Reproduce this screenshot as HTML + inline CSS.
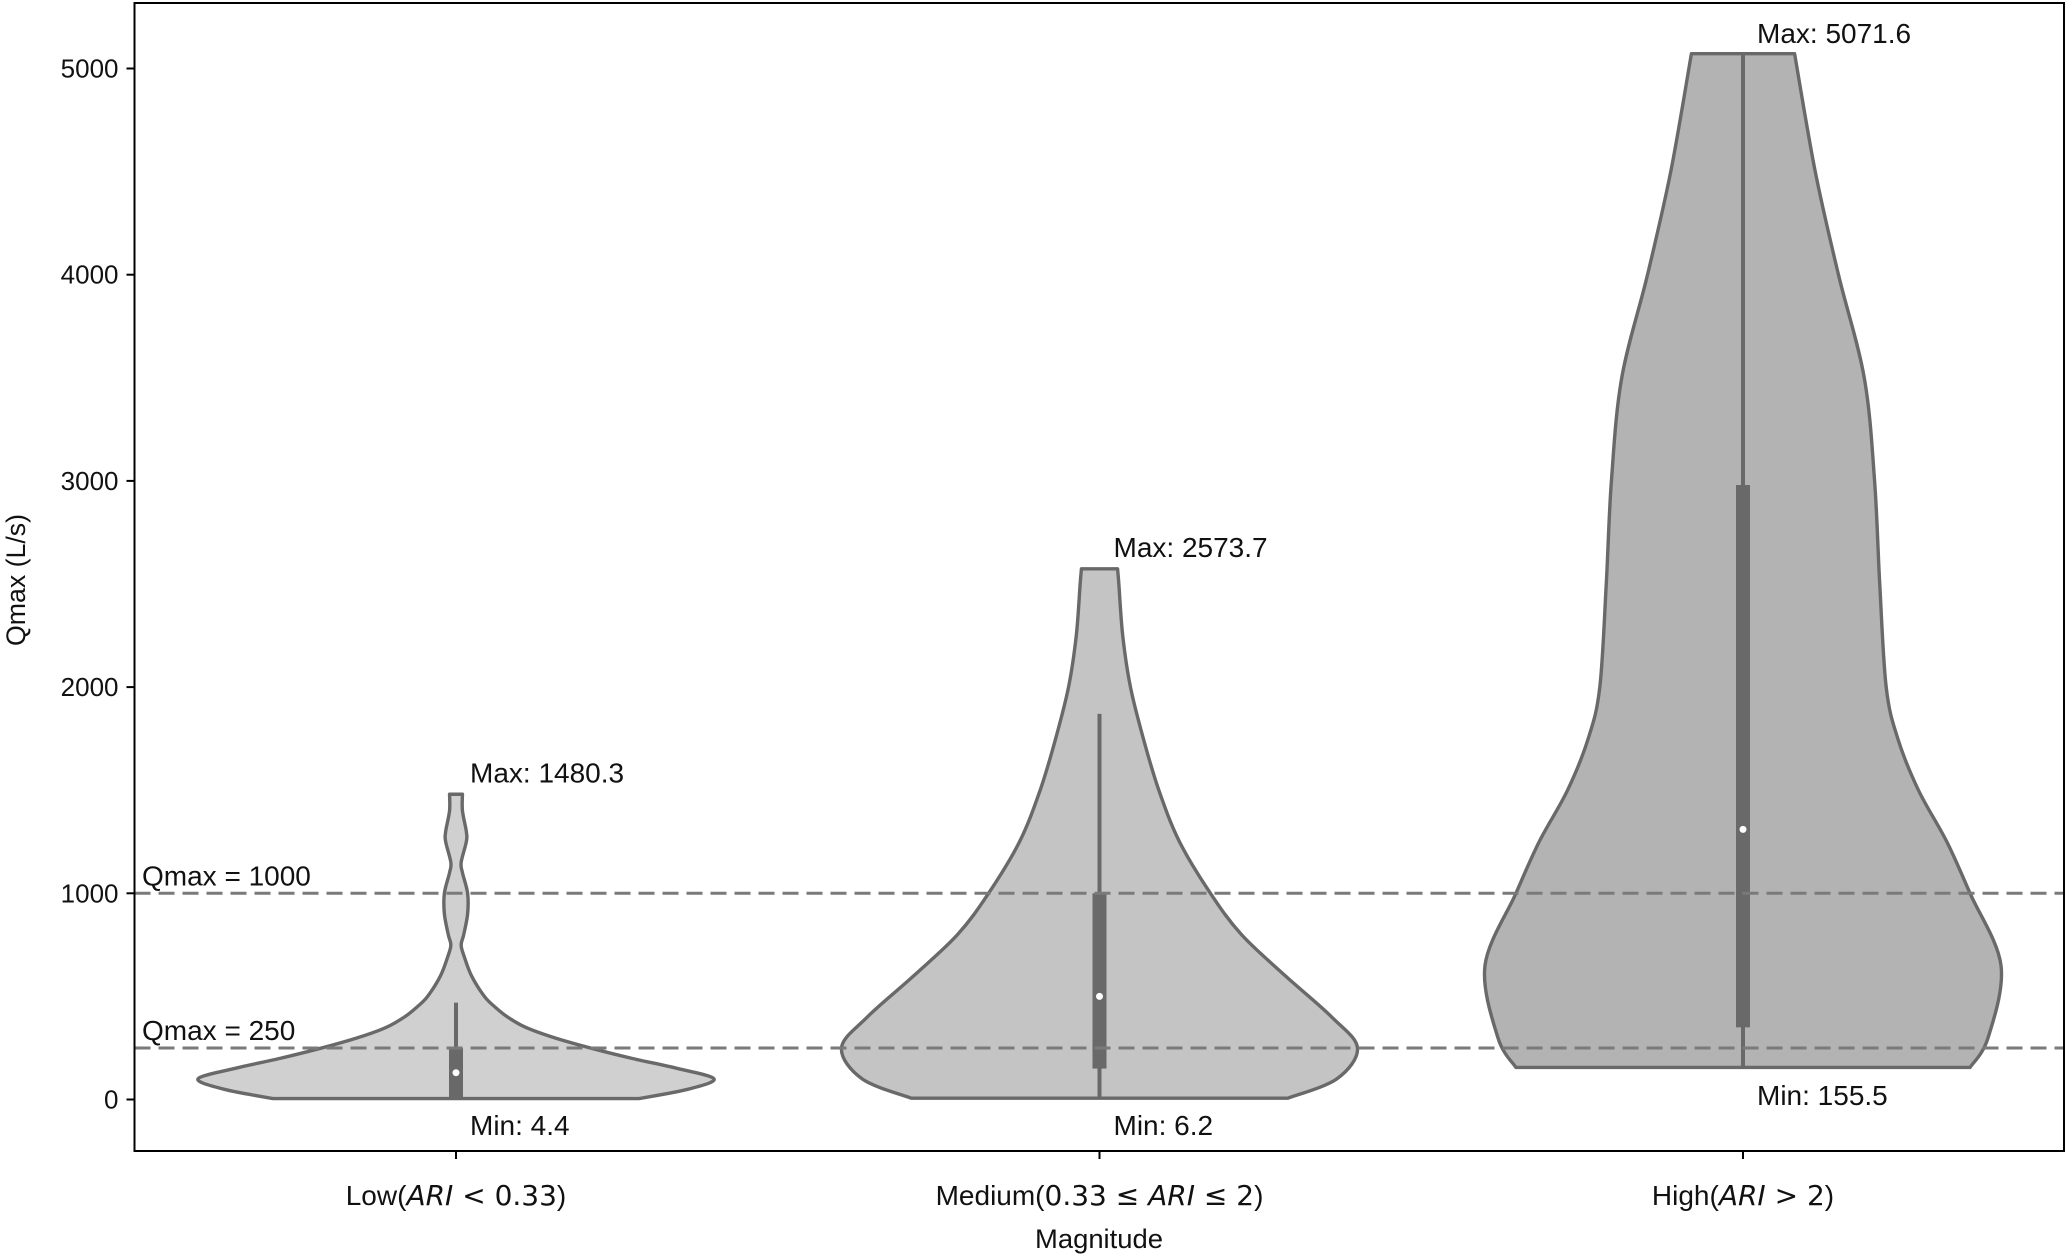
<!DOCTYPE html>
<html><head><meta charset="utf-8"><style>body{margin:0;background:#fff}svg{display:block;font-family:"Liberation Sans",sans-serif}</style></head>
<body>
<svg id="chart" width="2067" height="1257" viewBox="0 0 2067 1257">
<rect x="0" y="0" width="2067" height="1257" fill="#fff"/>
<g id="plot"></g>
</svg>
<script>
const categories = ["Low", "Medium", "High"];
const lowProfile = [[4.4,0.71],[50,0.9],[100,1.0],[150,0.86],[200,0.68],[250,0.52],[300,0.38],[350,0.27],[400,0.2],[450,0.15],[500,0.11],[600,0.06],[700,0.03],[750,0.02],[800,0.03],[900,0.045],[1000,0.045],[1100,0.025],[1150,0.02],[1250,0.04],[1300,0.04],[1400,0.025],[1480.3,0.025]];
const mediumProfile = [[6.2,0.73],[100,0.92],[250,1.0],[400,0.9],[600,0.72],[800,0.55],[1000,0.43],[1250,0.31],[1500,0.23],[1750,0.17],[2000,0.12],[2250,0.09],[2500,0.075],[2573.7,0.07]];
const highProfile = [[155.5,0.88],[300,0.95],[650,1.0],[1000,0.88],[1250,0.79],[1500,0.68],[1750,0.6],[2000,0.555],[2500,0.53],[3000,0.51],[3500,0.47],[4000,0.37],[4500,0.28],[5071.6,0.2]];
const q1s = [10, 150, 350];
const q3s = [250, 1000, 2980];
const medians = [130, 500, 1310];
const whiskerLo = [4.4, 6.2, 155.5];
const whiskerHi = [470, 1870, 5071.6];
const maxVals = [1480.3, 2573.7, 5071.6];
const minVals = [4.4, 6.2, 155.5];
const yTicks = [0, 1000, 2000, 3000, 4000, 5000];
const refLines = [1000, 250];
const fills = ["#d0d0d0", "#c4c4c4", "#b3b3b3"];

const NS = "http://www.w3.org/2000/svg";
const plot = document.getElementById("plot");
const L = 134.5, R = 2064, T = 3, B = 1151;
const y = v => 1099.5 - v * 0.2062;
const x = i => 456 + i * 643.5;
const HW = 258;
function mk(tag, attrs, parent) {
  const e = document.createElementNS(NS, tag);
  for (const k in attrs) e.setAttribute(k, attrs[k]);
  (parent || plot).appendChild(e);
  return e;
}
function txt(s, attrs) { const t = mk("text", attrs); t.textContent = s; return t; }

const profiles = [lowProfile, mediumProfile, highProfile];
profiles.forEach((p, i) => {
  const cx = x(i);
  const pts = p.map(([v, w]) => [cx + w * HW, y(v)]);
  const left = p.slice().reverse().map(([v, w]) => [cx - w * HW, y(v)]);
  let d = "M" + pts[0][0] + "," + pts[0][1];
  const seg = (arr) => {
    for (let k = 0; k < arr.length - 1; k++) {
      const p0 = arr[Math.max(k - 1, 0)], p1 = arr[k], p2 = arr[k + 1], p3 = arr[Math.min(k + 2, arr.length - 1)];
      const c1 = [p1[0] + (p2[0] - p0[0]) / 6, p1[1] + (p2[1] - p0[1]) / 6];
      const c2 = [p2[0] - (p3[0] - p1[0]) / 6, p2[1] - (p3[1] - p1[1]) / 6];
      d += ` C${c1[0]},${c1[1]} ${c2[0]},${c2[1]} ${p2[0]},${p2[1]}`;
    }
  };
  seg(pts);
  d += ` L${left[0][0]},${left[0][1]}`;
  seg(left);
  d += " Z";
  const v = mk("path", {d, fill: fills[i], stroke: "#696969", "stroke-width": 3.4, "stroke-linejoin": "round"});
  
  
  const w = mk("line", {x1: cx, x2: cx, y1: y(whiskerLo[i]), y2: y(whiskerHi[i]), stroke: "#696969", "stroke-width": 4});
  
  
  const b = mk("rect", {x: cx - 7, width: 14, y: y(q3s[i]), height: y(q1s[i]) - y(q3s[i]), fill: "#696969"});
  
  
  const m = mk("circle", {cx, cy: y(medians[i]), r: 3.5, fill: "#fff"});
  
  
  const a1 = txt("Max: " + maxVals[i], {x: cx + 14, y: i === 2 ? 43 : y(maxVals[i]) - 12, "font-size": 28, fill: "#111"});
  
  
  const a2 = txt("Min: " + minVals[i], {x: cx + 14, y: i === 2 ? 1105 : 1135, "font-size": 28, fill: "#111"});
  
  
});

refLines.forEach(r => {
  const l = mk("line", {x1: L, x2: R, y1: y(r), y2: y(r), stroke: "#7a7a7a", "stroke-width": 3, "stroke-dasharray": "16,8"});
  
  
  const t = txt("Qmax = " + r, {x: 142, y: y(r) - 8, "font-size": 28, fill: "#111"});
  
  
});

const fr = mk("rect", {x: L, y: T, width: R - L, height: B - T, fill: "none", stroke: "#000", "stroke-width": 2});



yTicks.forEach(v => {
  const tk = mk("line", {x1: L - 8, x2: L, y1: y(v), y2: y(v), stroke: "#000", "stroke-width": 2});
  
  
  const t = txt(String(v), {x: L - 16, y: y(v) + 9, "font-size": 26, "text-anchor": "end", fill: "#111"});
  
  
});

const xl = [["Low(", "ARI", " < 0.33", ")"], ["Medium(", "0.33 ≤ ", "ARI", " ≤ 2", ")"], ["High(", "ARI", " > 2", ")"]];
categories.forEach((c, i) => {
  const tk = mk("line", {x1: x(i), x2: x(i), y1: B, y2: B + 8, stroke: "#000", "stroke-width": 2});
  
  
  const t = mk("text", {x: x(i), y: 1205, "font-size": 28, "text-anchor": "middle", fill: "#111"});
  
  
  const parts = xl[i];
  parts.forEach((s, k) => {
    const isText = k === 0 || k === parts.length - 1;
    const attrs = isText ? {} : {"font-family": "DejaVu Sans, sans-serif", "font-size": 28};
    if (s === "ARI") attrs["font-style"] = "italic";
    const sp = mk("tspan", attrs, t);
    sp.textContent = s;
  });
});

const xt = txt("Magnitude", {x: 1099, y: 1248, "font-size": 27, "text-anchor": "middle", fill: "#111", textLength: 128, lengthAdjust: "spacingAndGlyphs"});


const yt = txt("Qmax (L/s)", {x: 0, y: 0, "font-size": 27, "text-anchor": "middle", fill: "#111", transform: "translate(25,580) rotate(-90)", textLength: 132, lengthAdjust: "spacingAndGlyphs"});


</script>
</body></html>
